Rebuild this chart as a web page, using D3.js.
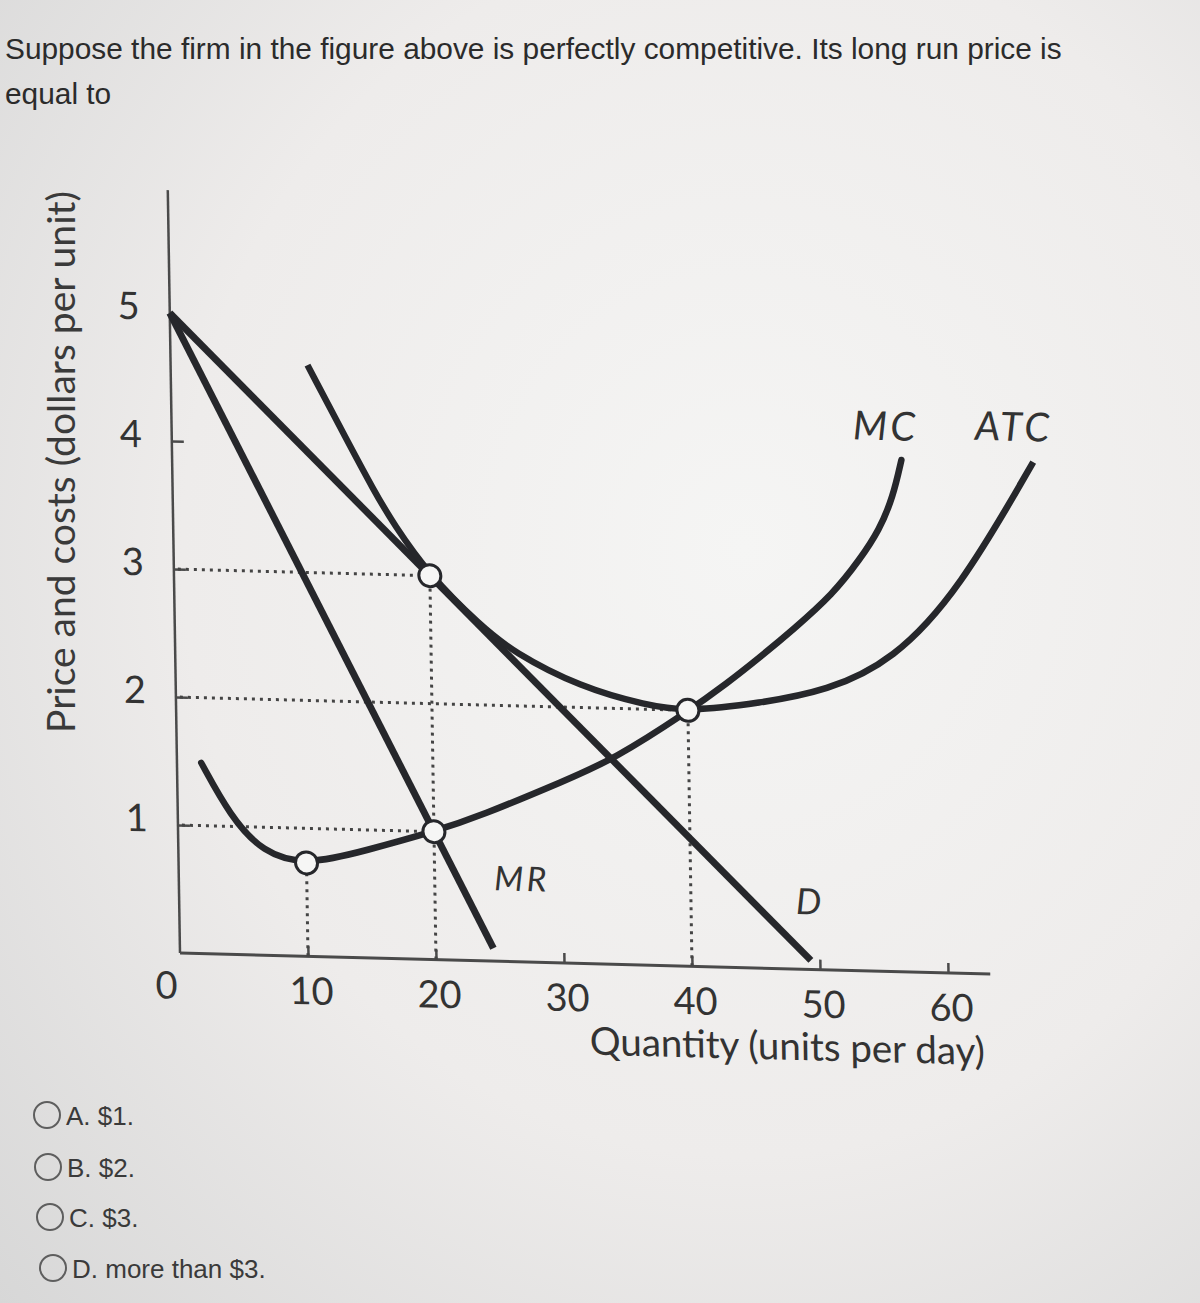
<!DOCTYPE html>
<html><head><meta charset="utf-8">
<script src="https://cdn.jsdelivr.net/npm/d3@7"></script>
<style>body{margin:0;background:#ecebea;} svg{display:block}</style>
</head><body>
<script>
// ---------- data ----------
const questionLines = ["Suppose the firm in the figure above is perfectly competitive. Its long run price is", "equal to"];
const answerOptions = ["A. $1.", "B. $2.", "C. $3.", "D. more than $3."];
const xTickValues = [10, 20, 30, 40, 50, 60];
const xTickLabels = ["10", "20", "30", "40", "50", "60"];
const yTickValues = [1, 2, 3, 4];
const yLabelValues = [1, 2, 3, 4, 5];
const yLabelTexts = ["1", "2", "3", "4", "5"];
const xTitle = "Quantity (units per day)";
const yTitle = "Price and costs (dollars per unit)";

const demandQ = [0, 49.3];
const demandP = [5, 0.07];
const mrQ = [0, 24.5];
const mrP = [5, 0.1];
const mcQ = [1.9, 4.1, 6.6, 10, 14.7, 20, 23.6, 30.4, 34.1, 40, 43.1, 45.7, 48.3, 51.5, 53.6, 55.2, 56.3, 57];
const mcP = [1.49, 1.08, 0.80, 0.71, 0.84, 1.0, 1.13, 1.43, 1.6, 1.99, 2.22, 2.43, 2.65, 2.94, 3.21, 3.45, 3.71, 4.0];
const atcQ = [10.7, 13.7, 15.7, 17.2, 20, 23.9, 26.4, 31.6, 36.8, 40, 45.6, 50.9, 56.1, 61.4, 67.3];
const atcP = [4.62, 4.04, 3.66, 3.40, 3.0, 2.62, 2.42, 2.16, 2.03, 1.99, 2.07, 2.18, 2.43, 3.0, 4.01];
const markerQ = [10, 20, 20, 40];
const markerP = [0.73, 1, 3, 2];
const hGuideP = [3, 2, 1];
const hGuideQEnd = [20, 40, 20];
const vGuideQ = [10, 20, 40];
const vGuidePEnd = [0.73, 3, 2];
const curveLabels = ["MC", "ATC", "MR", "D"];

// ---------- drawing ----------
const W = 1200, H = 1303;
const svg = d3.select("body").append("svg").attr("width", W).attr("height", H);
const defs = svg.append("defs");
const rg = defs.append("radialGradient").attr("id", "bg")
  .attr("cx", "0.62").attr("cy", "0.42").attr("r", "0.85");
rg.append("stop").attr("offset", "0").attr("stop-color", "#f5f5f4");
rg.append("stop").attr("offset", "0.55").attr("stop-color", "#eeeceb");
rg.append("stop").attr("offset", "1").attr("stop-color", "#d7d7d7");
svg.append("rect").attr("width", W).attr("height", H).attr("fill", "url(#bg)");

function fitWidth(sel, target) {
  const w = sel.node().getComputedTextLength();
  const fs = parseFloat(sel.attr("font-size"));
  sel.attr("font-size", (fs * target / w).toFixed(2));
}

// question text
const q1 = svg.append("text").attr("x", 5).attr("y", 59)
  .attr("font-family", "Liberation Sans, Arial, sans-serif").attr("font-size", 28)
  .attr("fill", "#2b2b2b").text(questionLines[0]);
fitWidth(q1, 1057);
svg.append("text").attr("x", 5).attr("y", 104)
  .attr("font-family", "Liberation Sans, Arial, sans-serif").attr("font-size", q1.attr("font-size"))
  .attr("fill", "#2b2b2b").text(questionLines[1]);

// answer options
const optX = [47, 48, 50, 53];
const optY = [1115, 1167, 1217, 1268];
answerOptions.forEach((t, i) => {
  svg.append("circle").attr("cx", optX[i]).attr("cy", optY[i]).attr("r", 13)
    .attr("fill", "none").attr("stroke", "#5e5e5e").attr("stroke-width", 2);
  svg.append("text").attr("x", optX[i] + 19).attr("y", optY[i] + 10)
    .attr("font-family", "Liberation Sans, Arial, sans-serif").attr("font-size", 26)
    .attr("fill", "#3a3a3a").text(t);
});

// y axis title
const yt = svg.append("text").attr("transform", "translate(75,462) rotate(-90)")
  .attr("text-anchor", "middle").attr("font-family", "Lato, sans-serif").attr("font-size", 34)
  .attr("fill", "#3a3a3a").text(yTitle);
fitWidth(yt, 542);

// chart group with slight photographic skew
const x = d3.scaleLinear().domain([0, 60]).range([0, 768]);
const y = d3.scaleLinear().domain([0, 5]).range([0, -640]);
const g = svg.append("g").attr("transform", "matrix(1,0.026,0.016,1,180,953)");

const ink = "#26272b";
const axisCol = "#4a4a4a";

// axes lines
g.append("line").attr("x1", x(0)).attr("y1", y(0)).attr("x2", x(0)).attr("y2", y(5.96))
  .attr("stroke", axisCol).attr("stroke-width", 2.5);
g.append("line").attr("x1", x(0)).attr("y1", y(0)).attr("x2", x(63.3)).attr("y2", y(0))
  .attr("stroke", axisCol).attr("stroke-width", 3);

// ticks via d3 axes
const yAx = g.append("g").call(d3.axisRight(y).tickValues(yTickValues).tickSize(12).tickSizeOuter(0).tickFormat(""));
yAx.select(".domain").remove();
yAx.selectAll("line").attr("stroke", axisCol).attr("stroke-width", 2.5);
const xAx = g.append("g").call(d3.axisTop(x).tickValues(xTickValues).tickSize(10).tickSizeOuter(0).tickFormat(""));
xAx.select(".domain").remove();
xAx.selectAll("line").attr("stroke", axisCol).attr("stroke-width", 2.5);

// tick labels
const labFont = "Lato, 'Open Sans', sans-serif";
yLabelValues.forEach((v, i) => {
  g.append("text").attr("x", x(0) - 30).attr("y", y(v) - 8)
    .attr("text-anchor", "end").attr("dominant-baseline", "central")
    .attr("font-family", labFont).attr("font-size", 38).attr("fill", "#333").text(yLabelTexts[i]);
});
g.append("text").attr("x", x(0) - 14).attr("y", 31).attr("text-anchor", "middle")
  .attr("dominant-baseline", "central").attr("font-family", labFont).attr("font-size", 38)
  .attr("fill", "#333").text("0");
xTickValues.forEach((v, i) => {
  g.append("text").attr("x", x(v) + 3).attr("y", 33).attr("text-anchor", "middle")
    .attr("dominant-baseline", "central").attr("font-family", labFont).attr("font-size", 38)
    .attr("fill", "#333").text(xTickLabels[i]);
});
const xt = g.append("text").attr("x", 606).attr("y", 91).attr("text-anchor", "middle")
  .attr("font-family", labFont).attr("font-size", 34).attr("fill", "#333").text(xTitle);
fitWidth(xt, 395);

// dotted guides
const dotted = g.append("g").attr("stroke", "#444").attr("stroke-width", 3)
  .attr("stroke-dasharray", "3,5").attr("fill", "none");
hGuideP.forEach((p, i) => {
  dotted.append("line").attr("x1", x(0) + 4).attr("y1", y(p)).attr("x2", x(hGuideQEnd[i])).attr("y2", y(p));
});
vGuideQ.forEach((q, i) => {
  dotted.append("line").attr("x1", x(q)).attr("y1", y(0)).attr("x2", x(q)).attr("y2", y(vGuidePEnd[i]));
});

// curves
const lineGen = d3.line().x(d => x(d[0])).y(d => y(d[1]));
const smooth = d3.line().x(d => x(d[0])).y(d => y(d[1])).curve(d3.curveBasis);
const zip = (a, b) => a.map((v, i) => [v, b[i]]);

g.append("path").attr("d", lineGen(zip(demandQ, demandP)))
  .attr("fill", "none").attr("stroke", ink).attr("stroke-width", 7);
g.append("path").attr("d", lineGen(zip(mrQ, mrP)))
  .attr("fill", "none").attr("stroke", ink).attr("stroke-width", 7);
g.append("path").attr("d", smooth(zip(atcQ, atcP)))
  .attr("fill", "none").attr("stroke", ink).attr("stroke-width", 6.5);
g.append("path").attr("d", smooth(zip(mcQ, mcP)))
  .attr("fill", "none").attr("stroke", ink).attr("stroke-width", 6.5).attr("stroke-linecap", "round");

// markers
markerQ.forEach((q, i) => {
  g.append("circle").attr("cx", x(q)).attr("cy", y(markerP[i])).attr("r", 11)
    .attr("fill", "#f6f6f5").attr("stroke", ink).attr("stroke-width", 3);
});

// curve labels
const clPos = [[55.8, 4.27, 40], [65.8, 4.29, 40], [26.8, 0.66, 34], [49.3, 0.54, 36]];
curveLabels.forEach((t, i) => {
  g.append("text").attr("x", x(clPos[i][0])).attr("y", y(clPos[i][1]))
    .attr("text-anchor", "middle").attr("dominant-baseline", "central")
    .attr("font-family", labFont).attr("font-style", "italic").attr("font-size", clPos[i][2])
    .attr("letter-spacing", 3).attr("fill", "#333").text(t);
});
</script>
</body></html>
